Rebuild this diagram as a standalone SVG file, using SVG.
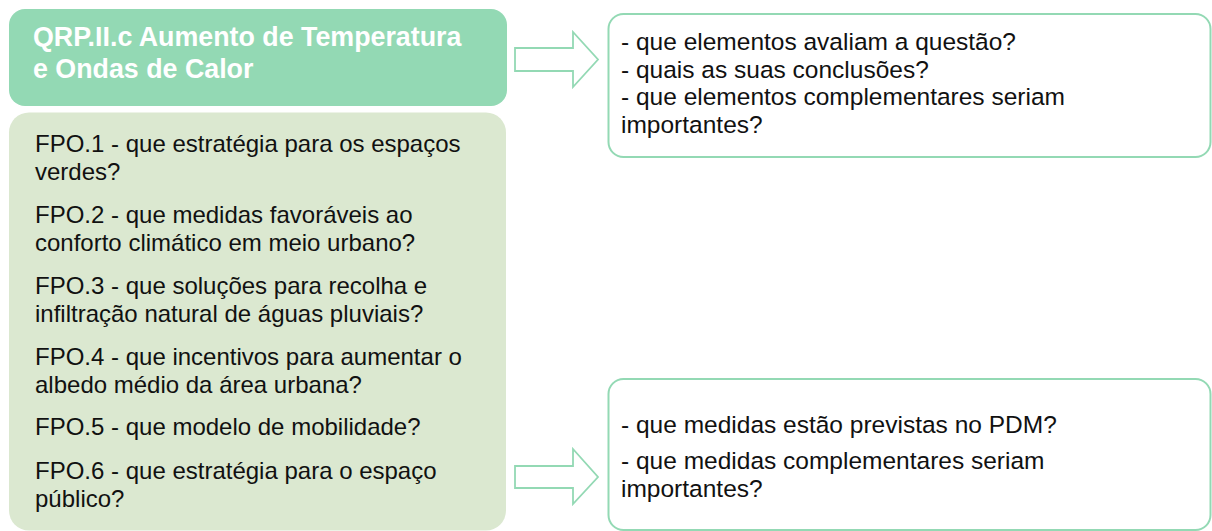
<svg xmlns="http://www.w3.org/2000/svg" width="1212" height="531" viewBox="0 0 1212 531">
<style>
.t{font-family:"Liberation Sans",Arial,sans-serif;font-size:24px;fill:#111}
.r{font-family:"Liberation Sans",Arial,sans-serif;font-size:24.5px;fill:#111}
.h{font-family:"Liberation Sans",Arial,sans-serif;font-size:26.8px;font-weight:bold;fill:#fff}
.ob{fill:#fff;stroke:#93D9B4;stroke-width:2}
.ar{fill:#fff;stroke:#93D9B4;stroke-width:1.8;stroke-linejoin:miter}
</style>
<rect width="1212" height="531" fill="#fff"/>
<g id="qrp">
<rect x="9" y="9" width="498" height="97" rx="16" fill="#93D9B4"/>
<text class="h" x="33" y="46">QRP.II.c Aumento de Temperatura</text>
<text class="h" x="33" y="78">e Ondas de Calor</text>
</g>
<g id="fpo">
<rect x="9" y="112.5" width="497" height="418" rx="20" fill="#DBE8D0"/>
<text class="t" x="35" y="152">FPO.1 - que estratégia para os espaços</text>
<text class="t" x="35" y="180">verdes?</text>
<text class="t" x="35" y="223">FPO.2 - que medidas favoráveis ao</text>
<text class="t" x="35" y="250.5">conforto climático em meio urbano?</text>
<text class="t" x="35" y="294">FPO.3 - que soluções para recolha e</text>
<text class="t" x="35" y="321.5">infiltração natural de águas pluviais?</text>
<text class="t" x="35" y="365">FPO.4 - que incentivos para aumentar o</text>
<text class="t" x="35" y="392.5">albedo médio da área urbana?</text>
<text class="t" x="35" y="435">FPO.5 - que modelo de mobilidade?</text>
<text class="t" x="35" y="479">FPO.6 - que estratégia para o espaço</text>
<text class="t" x="35" y="506.5">público?</text>
</g>
<g id="q1">
<rect class="ob" x="608.5" y="14" width="602" height="143" rx="15"/>
<text class="r" x="621" y="50">- que elementos avaliam a questão?</text>
<text class="r" x="621" y="77.5">- quais as suas conclusões?</text>
<text class="r" x="621" y="105">- que elementos complementares seriam</text>
<text class="r" x="621" y="132.5">importantes?</text>
</g>
<g id="q2">
<rect class="ob" x="608.5" y="379" width="602" height="151" rx="15"/>
<text class="r" x="621" y="432.5">- que medidas estão previstas no PDM?</text>
<text class="r" x="621" y="469">- que medidas complementares seriam</text>
<text class="r" x="621" y="496.5">importantes?</text>
</g>
<g id="connectors">
<polygon class="ar" points="515,48 573,48 573,32 598,59.5 573,87 573,71 515,71"/>
<polygon class="ar" points="515,466 573,466 573,449 598,477 573,504 573,488 515,488"/>
</g>
</svg>
